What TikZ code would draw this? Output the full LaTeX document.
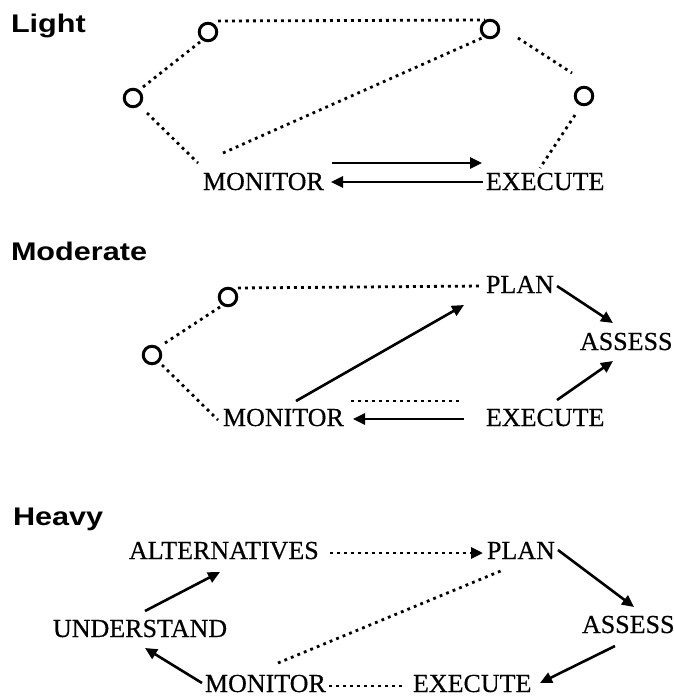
\documentclass[tikz,border=0pt]{standalone}
\usepackage{fontspec}
\usepackage{graphicx}
\setmainfont{Liberation Serif}
\newfontfamily\lblfont{Liberation Serif}[FakeBold=0.4]
\newfontfamily\titlefont{Liberation Sans}
\usetikzlibrary{arrows.meta}
\tikzset{
  ring/.style={circle, draw, line width=3pt, minimum size=17.5pt, inner sep=0pt, outer sep=0pt},
  lbl/.style={anchor=base west, inner sep=0pt, outer sep=0pt, font=\lblfont\fontsize{26}{30}\selectfont},
  ttl/.style={anchor=base west, inner sep=0pt, outer sep=0pt, font=\titlefont\bfseries\fontsize{25.5}{30}\selectfont},
  dots/.style={line width=2.8pt, dash pattern=on 2.8pt off 4.2pt},
  arr/.style={line width=2.6pt, -{Triangle[length=12pt,width=11pt]}},
  darr/.style={dots, -{Triangle[length=12pt,width=11pt]}}
}
\begin{document}
\begin{tikzpicture}[x=1pt,y=-1pt]
\useasboundingbox[fill=white] (0,0) rectangle (674,697);
% ---------- Light ----------
\node[ttl] (tl) at (11,32) {\scalebox{1.2}[1]{Light}};
\node[ring] (A1) at (208,32) {};
\node[ring] (B1) at (490,29) {};
\node[ring] (C1) at (133,98) {};
\node[ring] (D1) at (584,96) {};
\node[lbl] (mon1) at (203,190) {MONITOR};
\node[lbl] (exe1) at (486,190) {EXECUTE};
\draw[dots] ([shift={(10,-11)}]A1.center) -- ([shift={(-5,-9)}]B1.center);
\draw[dots] ([shift={(10,-11)}]C1.center) -- ([shift={(-8,10)}]A1.center);
\draw[dots] ([shift={(14,15)}]C1.center) -- ([shift={(-5,-27)}]mon1.base west);
\draw[dots] ([shift={(20,-37)}]mon1.base west) -- ([shift={(-8,9)}]B1.center);
\draw[dots] ([shift={(28,9)}]B1.center) -- ([shift={(-12,-23)}]D1.center);
\draw[dots] ([shift={(-9,19)}]D1.center) -- ([shift={(54,-22)}]exe1.base west);
\draw[arr] ([shift={(129,-27)}]mon1.base west) -- ([shift={(-4,-27)}]exe1.base west);
\draw[arr] ([shift={(-3,-8)}]exe1.base west) -- ([shift={(128,-8)}]mon1.base west);
% ---------- Moderate ----------
\node[ttl] (tm) at (11,260) {\scalebox{1.2}[1]{Moderate}};
\node[ring] (A2) at (228,297) {};
\node[ring] (C2) at (152,355) {};
\node[lbl] (mon2) at (223,426) {MONITOR};
\node[lbl] (exe2) at (486,426) {EXECUTE};
\node[lbl] (plan2) at (486,293) {PLAN};
\node[lbl] (ass2) at (580,350) {ASSESS};
\draw[dots] ([shift={(10,-9)}]A2.center) -- ([shift={(-4,-7)}]plan2.base west);
\draw[dots] ([shift={(13,-12)}]C2.center) -- ([shift={(-8,10)}]A2.center);
\draw[dots] ([shift={(10,10)}]C2.center) -- ([shift={(-5,-6)}]mon2.base west);
\draw[arr] ([shift={(73,-25)}]mon2.base west) -- ([shift={(-22,12)}]plan2.base west);
\draw[arr] ([shift={(71,-7)}]plan2.base west) -- ([shift={(33,-27)}]ass2.base west);
\draw[arr] ([shift={(71,-26)}]exe2.base west) -- ([shift={(33,11)}]ass2.base west);
\draw[arr] ([shift={(-22,-7)}]exe2.base west) -- ([shift={(130,-7)}]mon2.base west);
\draw[dots] ([shift={(128,-25)}]mon2.base west) -- ([shift={(-27,-25)}]exe2.base west);
% ---------- Heavy ----------
\node[ttl] (th) at (13,525) {\scalebox{1.2}[1]{Heavy}};
\node[lbl] (alt) at (129,559) {ALTERNATIVES};
\node[lbl] (plan3) at (487,559) {PLAN};
\node[lbl] (und) at (53,637) {UNDERSTAND};
\node[lbl] (ass3) at (582,633) {ASSESS};
\node[lbl] (mon3) at (205,692) {MONITOR};
\node[lbl] (exe3) at (413,692) {EXECUTE};
\draw[darr] ([shift={(201,-6)}]alt.base west) -- ([shift={(-4,-6)}]plan3.base west);
\draw[arr] ([shift={(71,-9)}]plan3.base west) -- ([shift={(52,-26)}]ass3.base west);
\draw[arr] ([shift={(33,13)}]ass3.base west) -- ([shift={(127,-9)}]exe3.base west);
\draw[dots] ([shift={(124,-6)}]mon3.base west) -- ([shift={(-8,-6)}]exe3.base west);
\draw[arr] ([shift={(-3,-9)}]mon3.base west) -- ([shift={(92,11)}]und.base west);
\draw[arr] ([shift={(92,-26)}]und.base west) -- ([shift={(91,13)}]alt.base west);
\draw[dots] ([shift={(73,-29)}]mon3.base west) -- ([shift={(16,11)}]plan3.base west);
\end{tikzpicture}
\end{document}
